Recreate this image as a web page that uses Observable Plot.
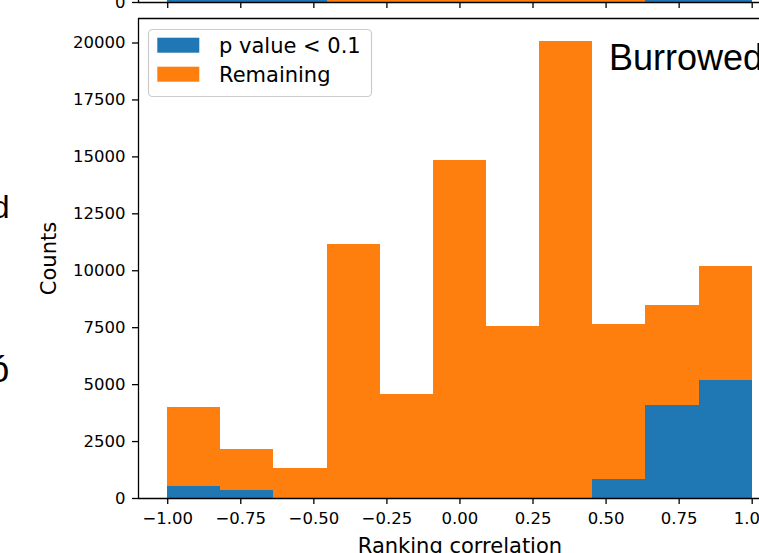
<!DOCTYPE html>
<html><head><meta charset="utf-8">
<script src="https://cdn.jsdelivr.net/npm/d3@7"></script>
<script src="https://cdn.jsdelivr.net/npm/@observablehq/plot@0.6"></script>
<style>
html,body{margin:0;padding:0;background:#fff;overflow:hidden;}
#wrap{position:relative;width:759px;height:553px;overflow:hidden;background:#fff;}
#wrap svg{position:absolute;left:0;top:0;}
</style></head><body><div id="wrap"></div>
<script>
// ---- data ----
const binEdges = [-1, -0.8182, -0.6364, -0.4545, -0.2727, -0.0909, 0.0909, 0.2727, 0.4545, 0.6364, 0.8182, 1];
const seriesNames = ["p value < 0.1", "Remaining"];
const seriesColors = ["#1f77b4", "#ff7f0e"];
const pValueCounts = [540, 350, 0, 0, 0, 0, 0, 0, 820, 4080, 5190];
const remainingCounts = [3460, 1800, 1320, 11150, 4570, 14840, 7550, 20070, 6820, 4390, 5000];
// upper (cropped) panel: which series sits on its baseline in each bin
const upperBaseSeries = ["p value < 0.1", "p value < 0.1", "p value < 0.1", "Remaining", "Remaining", "Remaining", "Remaining", "Remaining", "Remaining", "p value < 0.1", "p value < 0.1"];
const xTicks = [-1, -0.75, -0.5, -0.25, 0, 0.25, 0.5, 0.75, 1];
const xTickLabels = ["\u22121.00", "\u22120.75", "\u22120.50", "\u22120.25", "0.00", "0.25", "0.50", "0.75", "1.00"];
const yTicks = [0, 2500, 5000, 7500, 10000, 12500, 15000, 17500, 20000];
const yTickLabels = ["0", "2500", "5000", "7500", "10000", "12500", "15000", "17500", "20000"];
const xAxisFull = [-1.1, 1.1];     // matplotlib axes limits (right part cropped)
const xVisible = [-1.1, 1.025];    // part of the axis inside the picture
const yMax = 21076;
const xLabel = "Ranking correlation";
const yLabel = "Counts";

// ---- build rows ----
const rows = [];
for (let i = 0; i < pValueCounts.length; i++) {
  rows.push({x1: binEdges[i], x2: binEdges[i + 1], series: seriesNames[0], count: pValueCounts[i]});
  rows.push({x1: binEdges[i], x2: binEdges[i + 1], series: seriesNames[1], count: remainingCounts[i]});
}
const upperRows = upperBaseSeries.map((s, i) => ({x1: binEdges[i], x2: binEdges[i + 1], series: s}));

const SW = 1.3;
const chart = Plot.plot({
  width: 759, height: 553,
  marginLeft: 138, marginRight: 0, marginTop: 18, marginBottom: 55,
  style: {fontFamily: "DejaVu Sans", fontSize: "16.5px", color: "#000", background: "transparent"},
  x: {domain: xVisible},
  y: {domain: [0, yMax]},
  color: {domain: seriesNames, range: seriesColors},
  marks: [
    Plot.rectY(rows, {x1: "x1", x2: "x2", y: "count", fill: "series", shapeRendering: "crispEdges"}),
    Plot.ruleX([xVisible[0]], {stroke: "#000", strokeWidth: SW}),
    Plot.ruleY([0], {stroke: "#000", strokeWidth: SW}),
    Plot.ruleY([yMax], {stroke: "#000", strokeWidth: SW}),
    Plot.axisX({ticks: xTicks, tickFormat: (d, i) => xTickLabels[i], tickSize: 6, tickPadding: 8, label: null, strokeWidth: SW}),
    Plot.axisY({ticks: yTicks, tickFormat: (d, i) => yTickLabels[i], tickSize: 6, tickPadding: 7, label: null, strokeWidth: SW}),
    Plot.text([xLabel], {x: () => d3.mean(xAxisFull), frameAnchor: "bottom", dy: 54, lineAnchor: "bottom", fontSize: 21, fill: "#000"}),
    Plot.text([yLabel], {frameAnchor: "left", dx: -89.5, rotate: -90, lineAnchor: "middle", textAnchor: "middle", fontSize: 21, fill: "#000"})
  ]
});

const upper = Plot.plot({
  width: 759, height: 20,
  marginLeft: 138, marginRight: 0, marginTop: 0, marginBottom: 18,
  style: {fontFamily: "DejaVu Sans", fontSize: "16.5px", color: "#000", background: "transparent"},
  x: {domain: xVisible},
  y: {domain: [0, 1]},
  color: {domain: seriesNames, range: seriesColors},
  marks: [
    Plot.rectY(upperRows, {x1: "x1", x2: "x2", y: () => 1, fill: "series", shapeRendering: "crispEdges"}),
    Plot.ruleY([0], {stroke: "#000", strokeWidth: SW}),
    Plot.ruleX([xVisible[0]], {stroke: "#000", strokeWidth: SW}),
    Plot.axisX({ticks: xTicks, tickFormat: () => "", tickSize: 6, label: null, strokeWidth: SW}),
    Plot.axisY({ticks: [0], tickFormat: () => "0", tickSize: 6, tickPadding: 7, label: null, strokeWidth: SW})
  ]
});

const wrap = document.getElementById("wrap");
wrap.appendChild(chart);
wrap.appendChild(upper);

// ---- legend (matplotlib style, inside axes) ----
const color = chart.scale("color");
const svg = d3.select(chart);
const lg = svg.append("g").attr("font-family", "DejaVu Sans").attr("font-size", 21).attr("text-anchor", "start");
lg.append("rect").attr("x", 148.5).attr("y", 29.5).attr("width", 223).attr("height", 67)
  .attr("rx", 4).attr("fill", "#fff").attr("fill-opacity", 0.8).attr("stroke", "#cccccc").attr("stroke-width", 1.2);
seriesNames.forEach((s, i) => {
  lg.append("rect").attr("x", 157.3).attr("y", 37.7 + i * 29).attr("width", 42).attr("height", 15).attr("fill", color.apply(s));
  lg.append("text").attr("x", 219).attr("y", 52.6 + i * 29).attr("fill", "#000").attr("text-anchor", "start").text(s);
});

// ---- cropped neighbouring figure texts ----
const ann = svg.append("g").attr("font-family", "Liberation Sans, Arial, sans-serif").attr("fill", "#000");
ann.append("text").attr("x", 609).attr("y", 69.5).attr("font-size", 36).attr("text-anchor", "start").text("Burrowed");
ann.append("text").attr("x", 9.5).attr("y", 218).attr("font-size", 32).attr("text-anchor", "end").text("d");
ann.append("text").attr("x", 9.3).attr("y", 382).attr("font-size", 36).attr("text-anchor", "end").text("ó");
</script></body></html>
